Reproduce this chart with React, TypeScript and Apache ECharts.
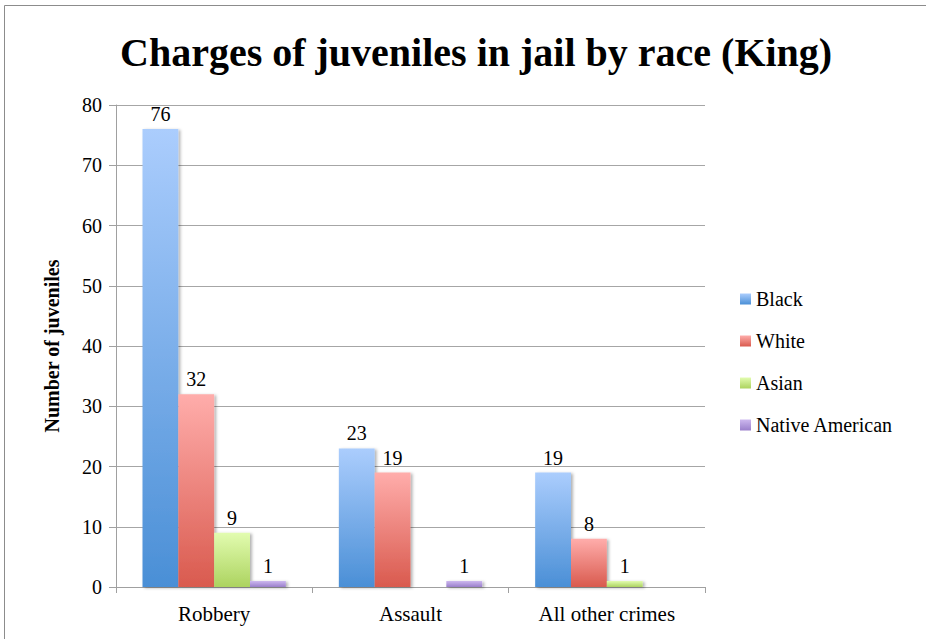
import React, { useEffect, useRef } from "react";
import * as echarts from "echarts";

const categories = ["Robbery", "Assault", "All other crimes"];
const seriesNames = ["Black", "White", "Asian", "Native American"];
const black = [76, 23, 19];
const white = [32, 19, 8];
const asian = [9, null, 1];
const nativeAmerican = [1, 1, null];
const yTicks = { min: 0, max: 80, interval: 10 };

const gradients = [
  ["#abcdfd", "#4a8fd6"],
  ["#ffadab", "#d95a4e"],
  ["#e2fcb0", "#acd35f"],
  ["#cdb8ef", "#9a7fcb"],
];

const FONT = "Liberation Serif";

export default function App() {
  const ref = useRef<HTMLDivElement>(null);
  useEffect(() => {
    document.body.style.margin = "0";
    const chart = echarts.init(ref.current!, null, { renderer: "svg" });
    const values = [black, white, asian, nativeAmerican];
    chart.setOption({
      animation: false,
      backgroundColor: "#ffffff",
      textStyle: { fontFamily: FONT },
      title: {
        text: "Charges of juveniles in jail by race (King)",
        left: 115,
        top: 27,
        textStyle: { fontFamily: FONT, fontWeight: "bold", fontSize: 40, color: "#000" },
      },
      graphic: [
        {
          type: "rect",
          shape: { x: 4.5, y: 5.5, width: 1000, height: 1000 },
          style: { fill: "none", stroke: "#8c8c8c", lineWidth: 1 },
          silent: true,
        },
      ],
      legend: {
        orient: "vertical",
        left: 735,
        top: 284,
        itemWidth: 11,
        itemHeight: 11,
        itemGap: 22,
        icon: "rect",
        data: seriesNames,
        textStyle: { fontFamily: FONT, fontSize: 20, lineHeight: 20, color: "#000" },
      },
      grid: { left: 116, right: 221, top: 105, bottom: 52 },
      xAxis: {
        type: "category",
        data: categories,
        axisLine: { lineStyle: { color: "#a0a0a0", width: 1 } },
        axisTick: { show: true, length: 6, lineStyle: { color: "#a0a0a0" } },
        axisLabel: { fontFamily: FONT, fontSize: 21, color: "#000", margin: 16 },
      },
      yAxis: {
        type: "value",
        min: yTicks.min,
        max: yTicks.max,
        interval: yTicks.interval,
        name: "Number of juveniles",
        nameLocation: "middle",
        nameGap: 54,
        nameTextStyle: { fontFamily: FONT, fontWeight: "bold", fontSize: 20, color: "#000" },
        axisLine: { show: true, lineStyle: { color: "#a0a0a0" } },
        axisTick: { show: true, length: 7, lineStyle: { color: "#a0a0a0" } },
        splitLine: { lineStyle: { color: "#a6a6a6", width: 1 } },
        axisLabel: { fontFamily: FONT, fontSize: 20, color: "#000", margin: 14 },
      },
      series: seriesNames.map((name, i) => ({
        name,
        type: "bar",
        data: values[i],
        barGap: "0%",
        barCategoryGap: "27%",
        itemStyle: {
          color: new echarts.graphic.LinearGradient(0, 0, 0, 1, [
            { offset: 0, color: gradients[i][0] },
            { offset: 1, color: gradients[i][1] },
          ]),
          shadowBlur: 3,
          shadowOffsetX: 2,
          shadowOffsetY: 1,
          shadowColor: "rgba(0,0,0,0.3)",
        },
        label: {
          show: true,
          position: "top",
          distance: 5,
          fontFamily: FONT,
          fontSize: 20,
          color: "#000",
        },
      })),
    });
    return () => chart.dispose();
  }, []);
  return <div ref={ref} style={{ width: 926, height: 639 }} />;
}
